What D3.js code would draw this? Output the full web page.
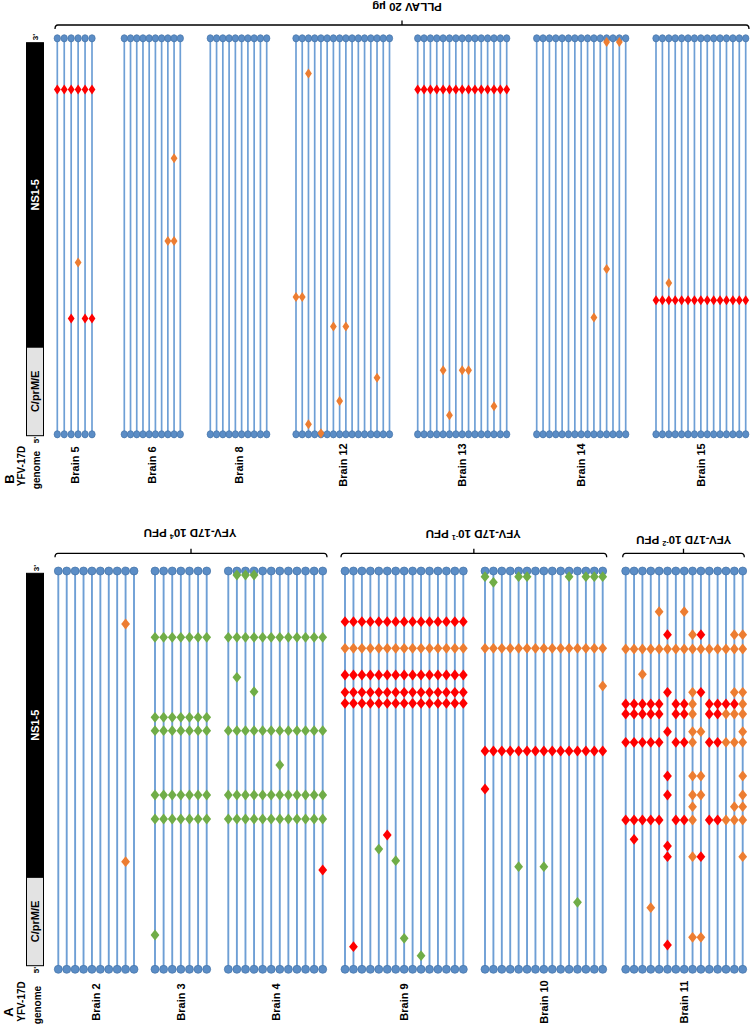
<!DOCTYPE html>
<html><head><meta charset="utf-8">
<script src="https://cdn.jsdelivr.net/npm/d3@7"></script>
<style>body{margin:0;background:#fff}svg{display:block;font-family:"Liberation Sans",Arial,sans-serif;font-weight:bold}</style>
</head><body><svg id="c" width="750" height="1029"></svg>
<script>
// ---------------- DATA ----------------
const GENOME_LEN = 10862;
const regionNames = ["C/prM/E", "NS1-5"];
const regionBounds = [0, 2452, 10862];

// each mutation: [genome position (nt), colour code, clone indices or "all"]
const panelBBrains = ["Brain 5", "Brain 6", "Brain 8", "Brain 12", "Brain 13", "Brain 14", "Brain 15"];
const panelBClones = [6, 10, 10, 16, 15, 15, 15];
const brain5 = [[9455, "r", "all"], [4710, "o", [3]], [3174, "r", [2, 4, 5]]];
const brain6 = [[7571, "o", [8]], [5302, "o", [7, 8]]];
const brain8 = [];
const brain12 = [[9894, "o", [2]], [3766, "o", [0, 1]], [2954, "o", [6, 8]], [1550, "o", [13]], [913, "o", [7]], [274, "o", [2]], [30, "o", [4]]];
const brain13 = [[9455, "r", "all"], [1755, "o", [4, 7, 8]], [768, "o", [12]], [521, "o", [5]]];
const brain14 = [[10761, "o", [11, 13]], [4534, "o", [11]], [3201, "o", [9]]];
const brain15 = [[4150, "o", [2]], [3676, "r", "all"]];

const panelABrains = ["Brain 2", "Brain 3", "Brain 4", "Brain 9", "Brain 10", "Brain 11"];
const panelAClones = [10, 7, 12, 15, 15, 15];
const brain2 = [[9416, "o", [8]], [2934, "o", [8]]];
const brain3 = [[9054, "g", "all"], [6872, "g", "all"], [6507, "g", "all"], [4753, "g", "all"], [4099, "g", "all"], [935, "g", [0]]];
const brain4 = [[10753, "g", [1, 2, 3]], [9054, "g", "all"], [7963, "g", [1]], [7570, "g", [3]], [6507, "g", "all"], [5571, "g", [6]], [4753, "g", "all"], [4099, "g", "all"], [2708, "r", [11]]];
const brain9 = [[9479, "r", "all"], [8754, "o", "all"], [8026, "r", "all"], [7554, "r", "all"], [7254, "r", "all"], [3662, "r", [5]], [3280, "g", [4]], [2962, "g", [6]], [845, "g", [7]], [616, "r", [1]], [371, "g", [9]]];
const brain10 = [[10706, "g", [0, 4, 5, 10, 12, 13, 14]], [10553, "g", [1]], [8754, "o", "all"], [7726, "o", [14]], [5953, "r", "all"], [4917, "r", [0]], [2798, "g", [4, 7]], [1827, "g", [11]]];
const brain11 = [
  [9752, "o", [4, 7]],
  [9125, "r", [5, 9]], [9125, "o", [8, 13, 14]],
  [8735, "o", "all"],
  [8045, "o", [2]],
  [7554, "r", [5, 9]], [7554, "o", [8, 13, 14]],
  [7235, "r", [0, 1, 2, 3, 4, 6, 7, 10, 11, 12, 13]], [7235, "o", [8, 14]],
  [6962, "r", [0, 1, 2, 3, 4, 6, 7, 10, 11]], [6962, "o", [8, 12, 13, 14]],
  [6479, "r", [5]], [6479, "o", [8, 9, 14]],
  [6190, "r", [0, 1, 2, 3, 4, 6, 7, 10, 11]], [6190, "o", [8, 12, 13, 14]],
  [5271, "r", [5]], [5271, "o", [8, 9, 14]],
  [4753, "r", [5]], [4753, "o", [8, 9, 14]],
  [4434, "o", [8, 13, 14]],
  [4071, "r", [0, 1, 2, 3, 4, 6, 7, 10, 11]], [4071, "o", [8, 12, 13, 14]],
  [3545, "r", [1]], [3362, "r", [5]],
  [3071, "r", [5, 9]], [3071, "o", [8, 14]],
  [1680, "o", [3]], [873, "o", [8, 9]], [663, "r", [5]]
];

const groupTitlesA = ["YFV-17D 10|4| PFU", "YFV-17D 10|-1| PFU", "YFV-17D 10|-2| PFU"];
const groupTitleB = "PLLAV 20 µg";

// ---------------- STYLE / LAYOUT ----------------
const colors = {r: "#ff0000", o: "#ed7d31", g: "#70ad47"};
const lineColor = "#6e9fd5", dotFill = "#5b8dc6", dotStroke = "#4372a8";

const svg = d3.select("#c");

const panels = [
  {
    brains: panelBBrains, clones: panelBClones,
    muts: [brain5, brain6, brain8, brain12, brain13, brain14, brain15],
    yRange: [434.3, 38.3],
    cols: [[57.3, 92], [124.3, 180.3], [210.3, 266.7], [296, 389.5], [417.7, 506.7], [536.7, 625.7], [656, 745.7]],
    rx: 3.2, ry: 3.6, dw: 3.4, dh: 5.0, lw: 1.7,
    labelY: 465, barTop: 42.7, barBot: 435.7,
    letter: "B", letterPos: [9, 479], yfvPos: [21, 466], genPos: [36.5, 470],
    p3: [35, 37], p5: [36, 440],
    brackets: [{x0: 55, x1: 749, y: 25, title: groupTitleB, tx: 407, ty: 7}]
  },
  {
    brains: panelABrains, clones: panelAClones,
    muts: [brain2, brain3, brain4, brain9, brain10, brain11],
    yRange: [969.3, 571],
    cols: [[58.3, 134], [155, 206.7], [228.3, 322.7], [345, 463.3], [485, 602.7], [625.7, 742.7]],
    rx: 4, ry: 4, dw: 4.4, dh: 5.4, lw: 1.9,
    labelY: 1002, barTop: 573.3, barBot: 965.7,
    letter: "A", letterPos: [8, 1012], yfvPos: [21, 1001.5], genPos: [37, 1005],
    p3: [36, 568], p5: [36, 970],
    brackets: [
      {x0: 55, x1: 327, y: 553.3, title: groupTitlesA[0], tx: 190, ty: 533},
      {x0: 341, x1: 606.7, y: 553.3, title: groupTitlesA[1], tx: 473.3, ty: 533.5},
      {x0: 622.7, x1: 744.3, y: 553.3, title: groupTitlesA[2], tx: 683.8, ty: 540}
    ]
  }
];

function vtext(g, x, y, txt, size, fill) {
  return g.append("text").attr("transform", `translate(${x},${y}) rotate(-90)`)
    .attr("text-anchor", "middle").attr("dominant-baseline", "central")
    .attr("font-size", size).attr("fill", fill || "#000").text(txt);
}

panels.forEach(p => {
  const g = svg.append("g");
  const y = d3.scaleLinear().domain([0, GENOME_LEN]).range(p.yRange);
  const barY = d3.scaleLinear().domain([0, GENOME_LEN]).range([p.barBot, p.barTop]);

  // genome bar
  const regs = regionNames.map((n, i) => ({name: n, s: regionBounds[i], e: regionBounds[i + 1]}));
  g.selectAll("rect.reg").data(regs).join("rect")
    .attr("x", 26.5).attr("width", 17)
    .attr("y", d => barY(d.e)).attr("height", d => barY(d.s) - barY(d.e))
    .attr("fill", d => d.name === "NS1-5" ? "#000" : "#e3e3e3")
    .attr("stroke", "#000").attr("stroke-width", 1);
  regs.forEach(d => {
    vtext(g, 35, (barY(d.s) + barY(d.e)) / 2, d.name, 11, d.name === "NS1-5" ? "#fff" : "#000");
  });
  vtext(g, p.p3[0], p.p3[1], "3'", 8);
  vtext(g, p.p5[0], p.p5[1], "5'", 8);
  vtext(g, p.letterPos[0], p.letterPos[1], p.letter, 13);
  vtext(g, p.yfvPos[0], p.yfvPos[1], "YFV-17D", 10);
  vtext(g, p.genPos[0], p.genPos[1], "genome", 10);

  // brackets
  p.brackets.forEach(b => {
    g.append("path")
      .attr("d", `M${b.x0},${b.y + 4}Q${b.x0},${b.y} ${b.x0 + 3},${b.y}H${b.x1 - 3}Q${b.x1},${b.y} ${b.x1},${b.y + 4}M${(b.x0 + b.x1) / 2},${b.y}V${b.y - 4.5}`)
      .attr("fill", "none").attr("stroke", "#000").attr("stroke-width", 1.3);
    const t = g.append("text").attr("transform", `translate(${b.tx},${b.ty}) rotate(180)`)
      .attr("text-anchor", "middle").attr("dominant-baseline", "central").attr("font-size", 11.5);
    const parts = b.title.split("|");
    t.append("tspan").text(parts[0]);
    if (parts.length > 1) {
      t.append("tspan").attr("font-size", 7).attr("baseline-shift", "super").text(parts[1]);
      t.append("tspan").text(parts[2]);
    }
  });

  // columns
  p.brains.forEach((name, ci) => {
    const n = p.clones[ci];
    const x = d3.scaleLinear().domain([0, n - 1]).range(p.cols[ci]);
    const idx = d3.range(n);
    const cg = g.append("g");
    cg.selectAll("line").data(idx).join("line")
      .attr("x1", x).attr("x2", x).attr("y1", y(0)).attr("y2", y(GENOME_LEN))
      .attr("stroke", lineColor).attr("stroke-width", p.lw);
    [0, GENOME_LEN].forEach(end => {
      cg.selectAll("ellipse.e" + end).data(idx).join("ellipse").attr("class", "e" + end)
        .attr("cx", x).attr("cy", y(end)).attr("rx", p.rx).attr("ry", p.ry)
        .attr("fill", dotFill).attr("stroke", dotStroke).attr("stroke-width", 0.7);
    });
    const pts = [];
    p.muts[ci].forEach(([pos, c, cl]) => {
      (cl === "all" ? idx : cl).forEach(i => pts.push({pos, c, i}));
    });
    cg.selectAll("path.m").data(pts).join("path").attr("class", "m")
      .attr("d", `M0,${-p.dh}L${p.dw},0L0,${p.dh}L${-p.dw},0Z`)
      .attr("transform", d => `translate(${x(d.i)},${y(d.pos)})`)
      .attr("fill", d => colors[d.c]);
    vtext(g, (p.cols[ci][0] + p.cols[ci][1]) / 2, p.labelY, name, 11);
  });
});
</script></body></html>
